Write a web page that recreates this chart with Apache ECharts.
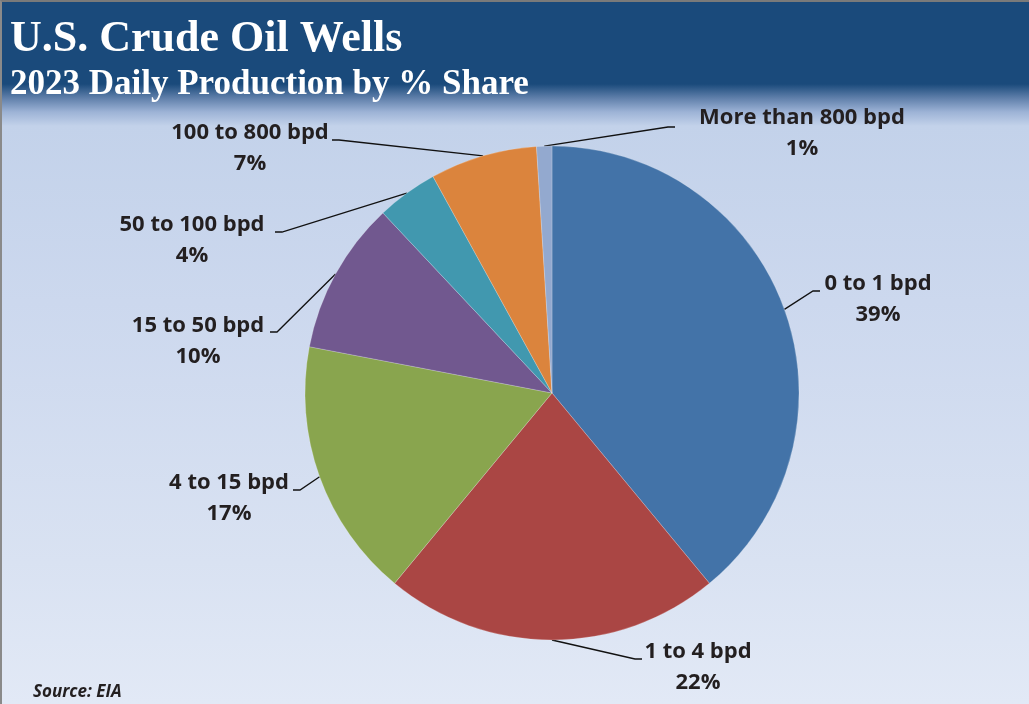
<!DOCTYPE html>
<html>
<head>
<meta charset="utf-8">
<script src="https://cdn.jsdelivr.net/npm/echarts@6/dist/echarts.min.js"></script>
<style>
  html, body { margin: 0; padding: 0; }
  #chart {
    width: 1029px; height: 704px;
    box-sizing: border-box;
    border-top: 2px solid #7a7a7a;
    border-left: 2px solid #8a8a8a;
    background: linear-gradient(to bottom,
      #1A4A7B 0px, #1A4A7B 82px, #5F7FAA 96px, #9DB3D6 110px, #C3D2EA 124px,
      #CCD8EE 300px, #D9E2F2 560px, #E2E9F6 702px);
  }
</style>
</head>
<body>
<div id="chart"></div>
<script>
// ---- data ----
const categories = ['0 to 1 bpd', '1 to 4 bpd', '4 to 15 bpd', '15 to 50 bpd', '50 to 100 bpd', '100 to 800 bpd', 'More than 800 bpd'];
const shares = [39, 22, 17, 10, 4, 7, 1];
const titleText = 'U.S. Crude Oil Wells';
const subtitleText = '2023 Daily Production by % Share';
const sourceText = 'Source: EIA';

// ---- styles ----
const colors = ['#4373A8', '#AA4644', '#89A54E', '#71588F', '#4198AF', '#DB843D', '#93A9CF'];
// label block centres and leader-line end points (pixels)
const labelSpots = [
  { cx: 876, cy: 297, ex: 818, ey: 289, dir: 1 },
  { cx: 696, cy: 665, ex: 640, ey: 657, dir: 1 },
  { cx: 227, cy: 496, ex: 291, ey: 488, dir: -1 },
  { cx: 196, cy: 339, ex: 268, ey: 330, dir: -1 },
  { cx: 190, cy: 238, ex: 273, ey: 230, dir: -1 },
  { cx: 248, cy: 146, ex: 330, ey: 138, dir: -1 },
  { cx: 800, cy: 131, ex: 673, ey: 125, dir: 1 }
];

const chart = echarts.init(document.getElementById('chart'), null, { renderer: 'canvas' });

chart.setOption({
  animation: false,
  backgroundColor: 'transparent',
  title: [
    {
      text: titleText,
      left: 3, top: 11,
      textStyle: { color: '#ffffff', fontFamily: 'Liberation Serif', fontWeight: 'bold', fontSize: 44 }
    },
    {
      text: subtitleText,
      left: 3, top: 60,
      textStyle: { color: '#ffffff', fontFamily: 'Liberation Serif', fontWeight: 'bold', fontSize: 35 }
    },
    {
      text: sourceText,
      left: 26, top: 677,
      textStyle: { color: '#231F20', fontFamily: 'Open Sans', fontStyle: 'italic', fontWeight: 'bold', fontSize: 17 }
    }
  ],
  series: [{
    type: 'pie',
    center: [550, 391],
    radius: 247,
    startAngle: 90,
    clockwise: true,
    avoidLabelOverlap: false,
    data: categories.map((c, i) => ({ name: c, value: shares[i], itemStyle: { color: colors[i] } })),
    itemStyle: { borderColor: 'rgba(255,255,255,0.35)', borderWidth: 0.6 },
    label: {
      show: true,
      position: 'outside',
      formatter: (p) => p.name + '\n' + p.value + '%',
      fontFamily: 'Open Sans',
      fontWeight: 'bold',
      fontSize: 22,
      lineHeight: 31,
      color: '#231F20'
    },
    labelLine: {
      show: true,
      length: 20,
      length2: 6,
      lineStyle: { color: '#111111', width: 1.3 }
    },
    labelLayout: function (params) {
      const s = labelSpots[params.dataIndex];
      const start = params.labelLinePoints ? params.labelLinePoints[0] : [s.ex, s.ey];
      return {
        x: s.cx,
        y: s.cy,
        align: 'center',
        verticalAlign: 'middle',
        labelLinePoints: [start, [s.ex - 7 * s.dir, s.ey], [s.ex, s.ey]]
      };
    }
  }]
});
</script>
</body>
</html>
